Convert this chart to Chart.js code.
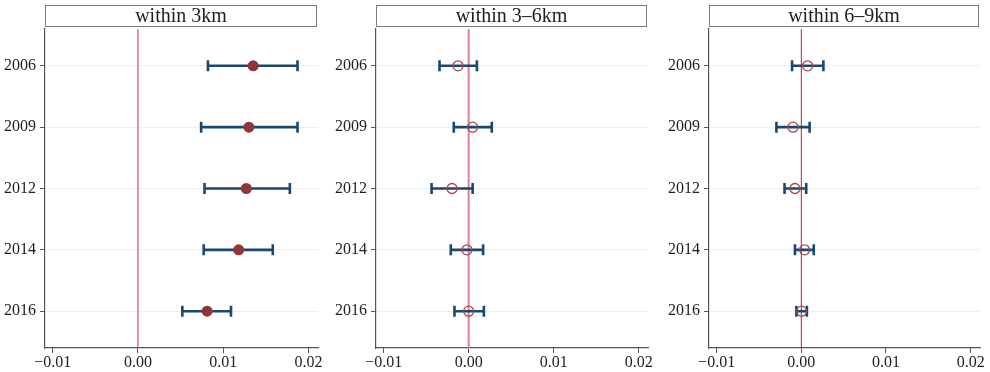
<!DOCTYPE html>
<html>
<head>
<meta charset="utf-8">
<script src="https://cdn.jsdelivr.net/npm/chart.js@4.4.1/dist/chart.umd.min.js"></script>
<style>
html,body{margin:0;padding:0;background:#fff;}
#wrap{position:relative;width:990px;height:372px;}
.pc{position:absolute;top:0;width:330px;height:372px;}
</style>
</head>
<body>
<div id="wrap">
<div class="pc" style="left:0px"><canvas id="c0"></canvas></div>
<div class="pc" style="left:330px"><canvas id="c1"></canvas></div>
<div class="pc" style="left:660px"><canvas id="c2"></canvas></div>
</div>
<script>
// ---- data ----
const years = ["2006", "2009", "2012", "2014", "2016"];
const panelTitles = ["within 3km", "within 3\u20136km", "within 6\u20139km"];
const xTickValues = [-0.01, 0.00, 0.01, 0.02];

const est3km   = [0.0135, 0.0130, 0.0127, 0.0118, 0.0081];
const lo3km    = [0.0082, 0.0074, 0.0078, 0.0077, 0.0052];
const hi3km    = [0.0187, 0.0187, 0.0178, 0.0158, 0.0109];

const est3to6  = [-0.00125, 0.00047, -0.00195, -0.0002, 0.0000];
const lo3to6   = [-0.00343, -0.00175, -0.00436, -0.0021, -0.00167];
const hi3to6   = [0.00097, 0.00272, 0.00047, 0.0017, 0.00179];

const est6to9  = [0.00074, -0.00098, -0.00075, 0.00039, 0.00004];
const lo6to9   = [-0.00109, -0.00294, -0.00198, -0.00075, -0.00058];
const hi6to9   = [0.00261, 0.00098, 0.00058, 0.00147, 0.00066];

const panels = [
  {title: panelTitles[0], est: est3km, lo: lo3km, hi: hi3km, filled: true},
  {title: panelTitles[1], est: est3to6, lo: lo3to6, hi: hi3to6, filled: false},
  {title: panelTitles[2], est: est6to9, lo: lo6to9, hi: hi6to9, filled: false}
];

// ---- styles ----
const FONT = "'Liberation Serif', 'DejaVu Serif', serif";
const NAVY = "#1a476f";
const MAROON = "#90353b";
const layoutCfg = [
  {yw: 45, right: 12, zero: {color: "#d8506e", width: 1.2}},
  {yw: 46, right: 12, zero: {color: "#e27d97", width: 2}},
  {yw: 49, right: 10, zero: {color: "#b51f3f", width: 1}}
];

const headerPlugin = {
  id: "header",
  afterDraw(chart, args, opts) {
    const ctx = chart.ctx, a = chart.chartArea;
    ctx.save();
    ctx.fillStyle = "#fff";
    ctx.strokeStyle = "#7a7a7a";
    ctx.lineWidth = 1;
    const x0 = Math.round(a.left) + 0.5, x1 = Math.round(a.right) - 1.5;
    ctx.fillRect(x0, 5.5, x1 - x0, 21);
    ctx.strokeRect(x0, 5.5, x1 - x0, 21);
    ctx.fillStyle = "#1e1e1e";
    ctx.font = "20px " + FONT;
    ctx.textAlign = "center";
    ctx.textBaseline = "middle";
    ctx.fillText(opts.text, (x0 + x1) / 2, 16.5);
    ctx.restore();
  }
};

const ciPlugin = {
  id: "ci",
  beforeDatasetsDraw(chart, args, opts) {
    const ctx = chart.ctx, a = chart.chartArea;
    const xs = chart.scales.x, ys = chart.scales.y;
    ctx.save();
    // zero reference line
    const zx = xs.getPixelForValue(0);
    ctx.strokeStyle = opts.zero.color;
    ctx.lineWidth = opts.zero.width;
    ctx.beginPath();
    ctx.moveTo(zx, a.top);
    ctx.lineTo(zx, a.bottom);
    ctx.stroke();
    // confidence intervals
    ctx.strokeStyle = NAVY;
    ctx.lineWidth = 2.6;
    ctx.lineCap = "butt";
    for (let i = 0; i < opts.lo.length; i++) {
      const y = ys.getPixelForValue(i);
      const xl = xs.getPixelForValue(opts.lo[i]);
      const xh = xs.getPixelForValue(opts.hi[i]);
      ctx.beginPath();
      ctx.moveTo(xl, y); ctx.lineTo(xh, y);
      ctx.moveTo(xl, y - 5.5); ctx.lineTo(xl, y + 5.5);
      ctx.moveTo(xh, y - 5.5); ctx.lineTo(xh, y + 5.5);
      ctx.stroke();
    }
    ctx.restore();
  }
};

panels.forEach((p, k) => {
  const L = layoutCfg[k];
  new Chart(document.getElementById("c" + k), {
    type: "scatter",
    data: {
      datasets: [{
        data: p.est.map((v, i) => ({x: v, y: i})),
        pointRadius: p.filled ? 5.5 : 5,
        pointHoverRadius: p.filled ? 5.5 : 5,
        pointBackgroundColor: p.filled ? MAROON : "rgba(0,0,0,0)",
        pointBorderColor: p.filled ? MAROON : "#a8464c",
        pointBorderWidth: p.filled ? 0 : 1.3
      }]
    },
    options: {
      responsive: true,
      maintainAspectRatio: false,
      animation: false,
      layout: {padding: {left: 0, right: L.right, top: 29, bottom: 0}},
      plugins: {
        legend: {display: false},
        tooltip: {enabled: false},
        header: {text: p.title},
        ci: {lo: p.lo, hi: p.hi, zero: L.zero}
      },
      scales: {
        x: {
          type: "linear",
          min: -0.0109,
          max: 0.0211,
          afterBuildTicks: s => { s.ticks = xTickValues.map(v => ({value: v})); },
          afterFit: s => { s.height = 24; },
          ticks: {
            color: "#1e1e1e",
            font: {family: FONT, size: 16},
            padding: 0,
            maxRotation: 0,
            autoSkip: false,
            callback: v => (v < 0 ? "\u2212" : "") + Math.abs(v).toFixed(2)
          },
          grid: {drawOnChartArea: false, drawTicks: true, tickLength: 5, tickColor: "#555", lineWidth: 1},
          border: {display: true, color: "#555", width: 1.2}
        },
        y: {
          type: "linear",
          min: -0.6,
          max: 4.6,
          reverse: true,
          afterBuildTicks: s => { s.ticks = years.map((y, i) => ({value: i})); },
          afterFit: s => { s.width = L.yw; },
          ticks: {
            color: "#1e1e1e",
            font: {family: FONT, size: 16},
            padding: 4,
            autoSkip: false,
            callback: v => years[v]
          },
          grid: {color: "#e8f1f1", lineWidth: 1, drawTicks: true, tickLength: 5, tickColor: "#555"},
          border: {display: true, color: "#555", width: 1.2}
        }
      }
    },
    plugins: [ciPlugin, headerPlugin]
  });
});
</script>
</body>
</html>
